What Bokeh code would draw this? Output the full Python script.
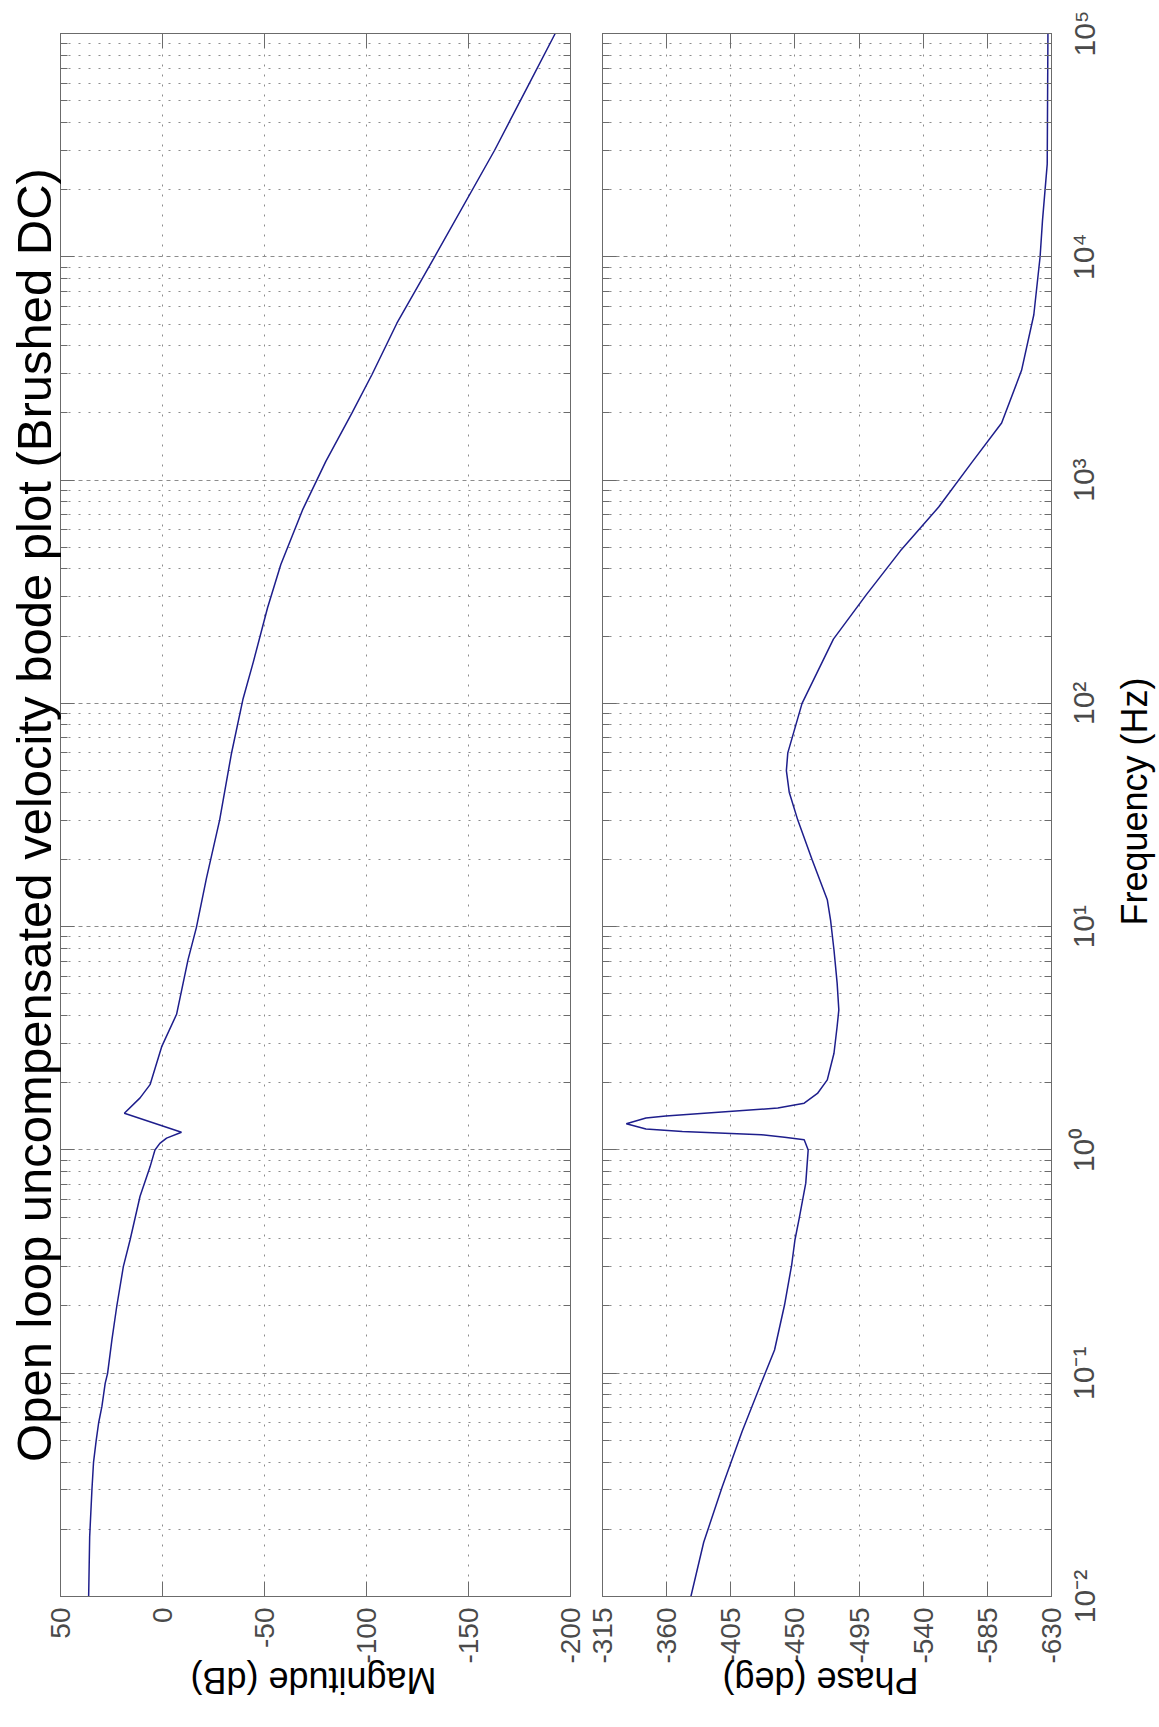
import math
from bokeh.plotting import figure
from bokeh.models import Range1d, FixedTicker, LinearAxis, LogAxis, Title, CustomJSTickFormatter
from bokeh.layouts import row
from bokeh.embed import file_html
from bokeh.resources import INLINE

# ---- data ----
freq_mag = [0.01, 0.0185, 0.03, 0.04, 0.05, 0.06, 0.071, 0.09, 0.1, 0.141, 0.2, 0.3,
            0.395, 0.62, 0.84, 1.0, 1.07, 1.13, 1.2, 1.46, 1.71, 1.96, 2.9, 4.05,
            7.1, 9.9, 16.4, 30, 59, 104, 153, 268, 419, 733, 1210, 2000, 2970,
            5040, 10000, 30000, 57800, 100000]
mag_db = [36.2, 35.7, 34.6, 33.8, 32.5, 31.3, 29.7, 28.1, 26.9, 24.8, 22.4, 19.2,
          15.9, 11.0, 6.1, 3.7, 1.3, -2.0, -9.3, 18.7, 11.0, 6.1, 0.4, -6.9,
          -12.5, -16.6, -21.5, -28.0, -33.7, -39.4, -44.5, -51.5, -58.0, -68.6, -80.0, -92.9, -102.7,
          -114.9, -133.4, -162.8, -179.0, -192.5]

freq_phase = [0.01, 0.0175, 0.031, 0.055, 0.096, 0.127, 0.202, 0.305, 0.395, 0.494, 0.71,
              1.0, 1.11, 1.14, 1.17, 1.21, 1.24, 1.31, 1.39, 1.42, 1.48, 1.54, 1.62,
              1.79, 2.06, 2.71, 3.57, 4.24, 5.6, 7.86, 10.7, 13.2, 20, 30, 40, 50, 60, 100,
              194, 306, 482, 759, 1197, 1800, 3100, 5500, 10000, 14600, 26000, 100000]
phase_deg = [-377, -386, -399, -413, -428, -435.7, -442.7, -447.7, -450, -453, -457.6,
             -459.3, -456.5, -442.7, -426.5, -371, -345.5, -331.7, -345.5, -359.4, -398.7, -438, -456.5,
             -465.8, -472.7, -477.4, -479.6, -480.8, -479.6, -477.4, -475, -472.7, -462, -452, -446, -444, -445, -455,
             -477, -500, -524, -551, -574, -595, -609, -617.6, -622, -623.7, -627, -627.5]

mag_ticks = [50, 0, -50, -100, -150, -200]
mag_tick_labels = ["50", "0", "-50", "-100", "-150", "-200"]
phase_ticks = [-315, -360, -405, -450, -495, -540, -585, -630]
phase_tick_labels = ["-315", "-360", "-405", "-450", "-495", "-540", "-585", "-630"]
decades = [0.01, 0.1, 1.0, 10.0, 100.0, 1000.0, 10000.0, 100000.0]
decade_labels = ["10⁻²", "10⁻¹", "10⁰", "10¹", "10²", "10³", "10⁴", "10⁵"]
minor_freq = [m * 10.0 ** e for e in range(-2, 5) for m in range(2, 10)]

title_text = "Open loop uncompensated velocity bode plot (Brushed DC)"
mag_label = "Magnitude (dB)"
phase_label = "Phase (deg)"
freq_label = "Frequency  (Hz)"

FONT = "Liberation Sans"
AX = "#6b6b6b"
GRID = "#8c8c8c"
LINE = "#1e1e8c"
TICKTXT = "#4a4a4a"
LABEL_PX = 36          # axis-title font size
FREQ_PX = 30           # frequency tick label size
LABEL_EM = {mag_label: 6.836, phase_label: 5.447}   # approx text length in em

F_LO, F_HI = 0.01, 100000.0
H = 1727
TOP, BOTTOM = 33, 131
FRAME_H = H - TOP - BOTTOM
PX_PER_DEC = FRAME_H / math.log10(F_HI / F_LO)

W1 = 586     # magnitude panel width
W2 = 481     # phase panel width (frame ends at x=1050, room for the last tick label)
W3 = 1159 - W1 - W2   # frequency labels strip


def freq_ticker():
    return FixedTicker(ticks=decades, minor_ticks=minor_freq)


def style_axis(ax, ticker, tick_in, minor_in, show_labels):
    ax.ticker = ticker
    ax.axis_line_color = AX
    ax.major_tick_line_color = AX
    ax.minor_tick_line_color = AX
    ax.major_tick_in = tick_in
    ax.major_tick_out = 0
    ax.minor_tick_in = minor_in
    ax.minor_tick_out = 0
    ax.major_label_text_font = FONT
    ax.axis_label = None
    ax.axis_label_standoff = 0
    if not show_labels:
        ax.major_label_text_font_size = "1px"
        ax.major_label_text_color = None
        ax.major_label_standoff = 0


def bare_axis(ax, ticks, formatter, angle, size_px, color, standoff):
    ax.ticker = FixedTicker(ticks=ticks, minor_ticks=[])
    ax.formatter = formatter
    ax.axis_line_color = None
    ax.major_tick_line_color = None
    ax.minor_tick_line_color = None
    ax.major_tick_in = 0
    ax.major_tick_out = 0
    ax.minor_tick_in = 0
    ax.minor_tick_out = 0
    ax.major_label_orientation = angle
    ax.major_label_text_font = FONT
    ax.major_label_text_font_size = f"{size_px}px"
    ax.major_label_text_color = color
    ax.major_label_standoff = standoff
    ax.axis_label = None
    return ax


def text_fmt(text):
    return CustomJSTickFormatter(args=dict(txt=text), code="return txt;")


def make_fig(x_start, x_end, ticks, tick_labels, width, bl, br, xlabel, label_center_px, freqs, vals):
    p = figure(width=width, height=H,
               x_range=Range1d(x_start, x_end), y_range=Range1d(F_LO, F_HI),
               y_axis_type="log", x_axis_location="below", y_axis_location="right",
               output_backend="svg", toolbar_location=None,
               min_border_left=bl, min_border_right=br,
               min_border_top=TOP, min_border_bottom=BOTTOM)
    p.background_fill_color = "white"
    p.border_fill_color = "white"
    p.outline_line_color = AX
    p.outline_line_width = 1

    bx = p.xaxis[0]   # bottom axis (only x axis so far)
    ry = p.yaxis[0]   # right axis (only y axis so far)

    # bottom axis: value labels (rotated)
    style_axis(bx, FixedTicker(ticks=ticks, minor_ticks=[]), 15, 0, True)
    bx.major_label_overrides = {t: s for t, s in zip(ticks, tick_labels)}
    bx.major_label_orientation = math.pi / 2
    bx.major_label_text_font_size = "28px"
    bx.major_label_text_color = TICKTXT
    bx.major_label_standoff = 11

    # right frequency axis: ticks only
    style_axis(ry, freq_ticker(), 14, 7, False)

    # top mirrored ticks
    tx = LinearAxis()
    style_axis(tx, FixedTicker(ticks=ticks, minor_ticks=[]), 15, 0, False)
    p.add_layout(tx, "above")

    # left mirrored frequency ticks
    lx = LogAxis()
    style_axis(lx, freq_ticker(), 14, 7, False)
    p.add_layout(lx, "left")

    # upside-down value-axis title below the tick labels
    # (a label rotated by pi runs from its tick to the right, so start it half a width left of centre)
    frame_w = width - bl - br
    units_per_px = (x_end - x_start) / frame_w
    text_w = LABEL_EM[xlabel] * LABEL_PX
    start_px = label_center_px - text_w / 2.0 - bl
    p.add_layout(bare_axis(LinearAxis(), [x_start + start_px * units_per_px], text_fmt(xlabel),
                           math.pi, LABEL_PX, "black", 14), "below")

    # grids
    p.xgrid.ticker = FixedTicker(ticks=ticks, minor_ticks=[])
    p.xgrid.grid_line_color = GRID
    p.xgrid.grid_line_dash = "2 8"
    p.ygrid.ticker = freq_ticker()
    p.ygrid.grid_line_color = GRID
    p.ygrid.grid_line_dash = "4 4"
    p.ygrid.minor_grid_line_color = GRID
    p.ygrid.minor_grid_line_dash = "2 8"

    p.line(x=vals, y=freqs, line_color=LINE, line_width=1.5)
    return p


p1 = make_fig(50, -200, mag_ticks, mag_tick_labels, W1, 60, 16, mag_label, 313, freq_mag, mag_db)
t = Title(text=title_text, align="center", text_font=FONT, text_font_size="49px",
          text_font_style="normal", text_color="black", standoff=0)
p1.add_layout(t, "left")

p2 = make_fig(-315, -630, phase_ticks, phase_tick_labels, W2, 16, W2 - 16 - 449, phase_label, 820 - W1,
              freq_phase, phase_deg)

# ---- strip to the right of the phase plot: frequency tick labels and frequency title ----
# Its (tiny) frame sits at the far right; its left axes share the frequency scale, read
# bottom to top and are centred on their ticks.
p3 = figure(width=W3, height=H, x_range=Range1d(0, 1), y_range=Range1d(F_LO, F_HI),
            y_axis_type="log", x_axis_location=None, y_axis_location="left",
            output_backend="svg", toolbar_location=None,
            min_border_left=W3 - 2, min_border_right=0,
            min_border_top=TOP, min_border_bottom=BOTTOM)
p3.outline_line_color = None
p3.background_fill_color = "white"
p3.border_fill_color = "white"
p3.grid.visible = False

# nearest the strip's frame: the frequency title, centred a little above mid-span
freq_title_pos = F_LO * 10 ** ((FRAME_H - (796 - TOP)) / PX_PER_DEC)
bare_axis(p3.yaxis[0], [freq_title_pos], text_fmt(freq_label), "parallel", LABEL_PX, "black", 5)

# further out (i.e. next to the phase plot): the decade labels
fx_fmt = CustomJSTickFormatter(args=dict(vals=decades, labs=decade_labels), code="""
    let best = 0, bd = Infinity;
    for (let i = 0; i < vals.length; i++) {
        const d = Math.abs(Math.log10(tick) - Math.log10(vals[i]));
        if (d < bd) { bd = d; best = i; }
    }
    return labs[best];
""")
p3.add_layout(bare_axis(LinearAxis(), decades, fx_fmt, "parallel", FREQ_PX, TICKTXT, 10), "left")

layout = row(p1, p2, p3)
open("out.html", "w").write(file_html(layout, INLINE))
